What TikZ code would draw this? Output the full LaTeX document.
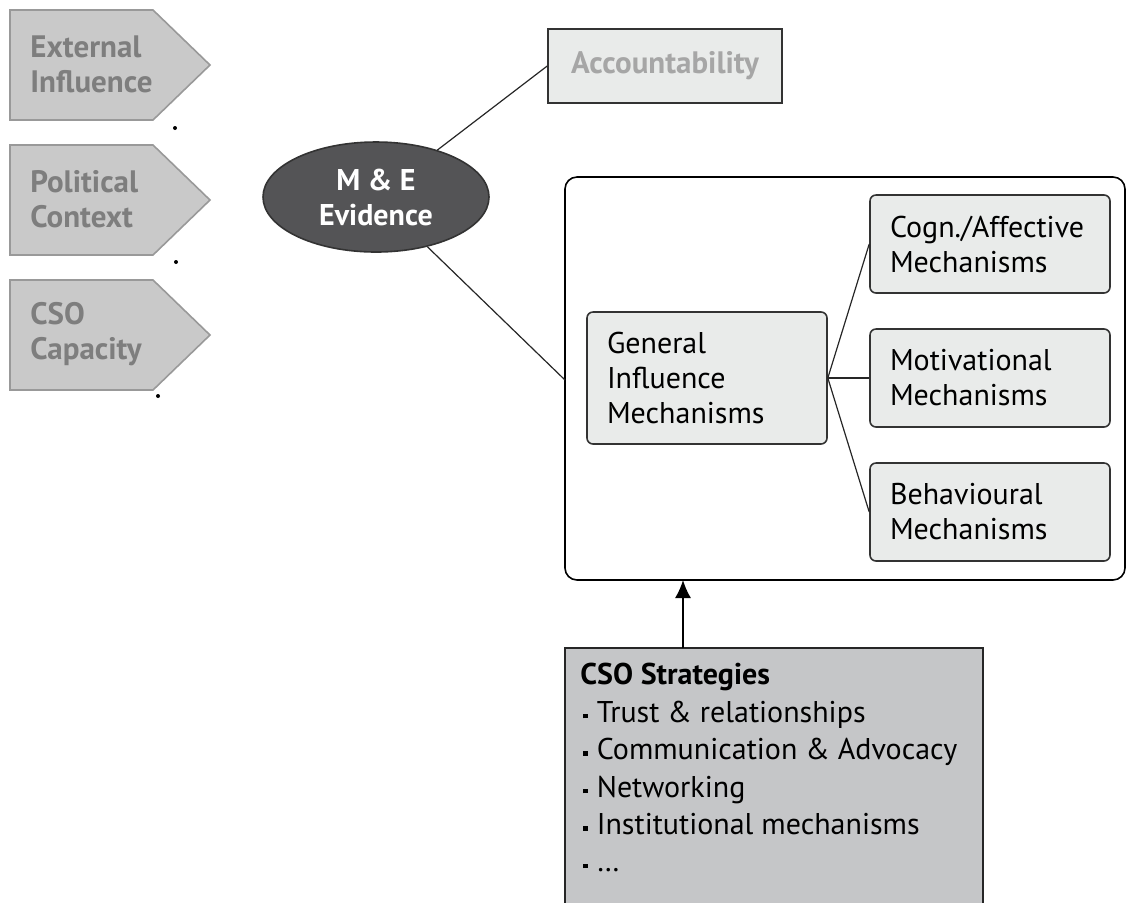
\documentclass[tikz,border=0pt]{standalone}
\usepackage{fontspec}
\setmainfont{PT Sans}
\usetikzlibrary{shapes.geometric,arrows.meta}

\definecolor{tabgray}{HTML}{C9C9C9}
\definecolor{tabtext}{HTML}{7E7E7E}
\definecolor{boxfill}{HTML}{E9EBEA}
\definecolor{ovalfill}{HTML}{545456}
\definecolor{stratfill}{HTML}{C5C6C8}

\newcommand{\stratdot}{\hspace{1.5pt}\raisebox{0.25ex}{\rule{2.2pt}{2.2pt}}\hspace{4.5pt}}

\tikzset{
	tab/.style = {fill = tabgray, draw = gray!80, line width = 0.8pt},
	tablabel/.style = {text = tabtext, font = \bfseries\fontsize{15.5}{17.5}\selectfont, align = left, anchor = west, inner sep = 0pt},
	mechbox/.style = {draw = black!80, fill = boxfill, rounded corners = 3pt, line width = 0.8pt, align = left,
		font = \fontsize{15}{17.5}\selectfont, text width = 100pt, minimum height = 49pt},
	link/.style = {draw = black!85, line width = 0.6pt}
}

\begin{document}
\begin{tikzpicture}[x = 0.5pt, y = -0.5pt, > = {Latex[length = 9pt, width = 8pt]}]

	\clip (0, 0) rectangle (1128, 902);

	% Influence factors on the left

	\foreach \top/\name/\txt in {10/ext/External\\Influence, 145/pol/Political\\Context, 280/cap/CSO\\Capacity} {
		\filldraw [tab] (10, \top) -- (153, \top) -- (210, \top + 55) -- (153, \top + 110) -- (10, \top + 110) -- cycle;
		\node [tablabel] (\name) at (30, \top + 54) {\txt};
	}

	\fill (175, 128) circle (1 pt);
	\fill (176, 262) circle (1 pt);
	\fill (158, 396) circle (1 pt);

	% M & E evidence and accountability

	\node [ellipse, draw = black!80, fill = ovalfill, line width = 0.8pt, minimum width = 113pt, minimum height = 55pt,
		text = white, align = center, font = \bfseries\fontsize{15}{17.5}\selectfont] (evid) at (376, 197) {M \& E\\Evidence};

	\node [draw = black!80, fill = boxfill, line width = 0.8pt, minimum width = 117pt, minimum height = 37pt,
		text = gray!70, font = \bfseries\fontsize{15.5}{17}\selectfont] (acc) at (665, 66) {Accountability};

	% Influence mechanisms frame

	\draw [line width = 0.8pt, rounded corners = 6pt] (565, 177) rectangle (1125, 580);
	\coordinate (frameleft) at (565, 380);
	\coordinate (framebot) at (683, 580);

	\node [mechbox, text width = 100pt, minimum width = 120pt, minimum height = 66pt] (gen) at (707, 378) {General\\Influence\\Mechanisms};
	\node [mechbox, minimum width = 120pt] (cogn) at (990, 244) {Cogn./Affective\\Mechanisms};
	\node [mechbox, minimum width = 120pt] (moti) at (990, 378) {Motivational\\Mechanisms};
	\node [mechbox, minimum width = 120pt] (beha) at (990, 512) {Behavioural\\Mechanisms};

	\draw [link] (evid) -- (acc.west);
	\draw [link] (evid) -- (frameleft);
	\draw [link] (gen.east) -- (cogn.west);
	\draw [link] (gen.east) -- (moti.west);
	\draw [link] (gen.east) -- (beha.west);

	% CSO strategies

	\filldraw [fill = stratfill, draw = black!85, line width = 0.8pt] (565, 648) rectangle (983, 920);
	\coordinate (strattop) at (683, 648);
	\node [anchor = north west, align = left, inner sep = 0pt, font = \fontsize{15}{18.7}\selectfont] (strat) at (580, 663)
		{\textbf{CSO Strategies}\\
		\stratdot Trust \& relationships\\
		\stratdot Communication \& Advocacy\\
		\stratdot Networking\\
		\stratdot Institutional mechanisms\\
		\stratdot \dots};

	\draw [->, line width = 0.8pt] (strattop) -- (framebot);

\end{tikzpicture}
\end{document}
